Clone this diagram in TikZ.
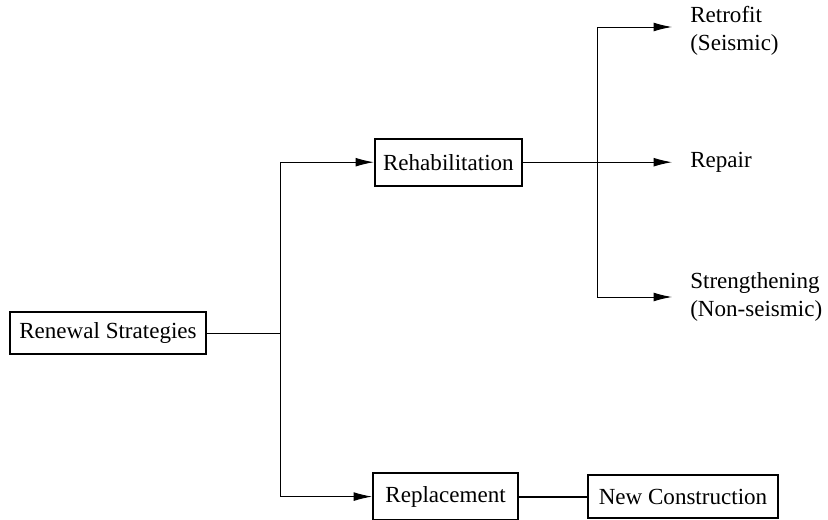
\documentclass[tikz,border=0pt]{standalone}
\usepackage{fontspec}
\setmainfont{Liberation Serif}
\usepackage{tikz}
\usetikzlibrary{arrows.meta,calc,positioning}

\begin{document}
\begin{tikzpicture}[
  stratbox/.style={draw=black,line width=1.4pt,inner xsep=2pt,inner ysep=0pt,
    minimum height=1.17cm,font=\fontsize{16.4}{19.7}\selectfont},
  stratlabel/.style={anchor=west,inner sep=0pt,align=left,
    font=\fontsize{16.4}{19.7}\selectfont},
  stratflow/.style={-{Latex[length=4.6mm,width=2.2mm]},line width=0.7pt},
  stratline/.style={line width=0.7pt}
]
  \useasboundingbox (0,0) rectangle (20.7,12.975);
  \node[stratbox,minimum width=4.9cm,minimum height=1.05cm] (renewal)
    at (2.7,4.65) {Renewal Strategies};
  \node[stratbox,minimum width=3.675cm] (rehab) at (11.21,8.92)
    {Rehabilitation};
  \node[stratbox,minimum width=3.625cm] (replace) at (11.14,0.56)
    {Replacement};
  \node[stratbox,minimum width=4.75cm,minimum height=1.08cm] (newcon)
    at (17.075,0.56) {New Construction};

  \node[stratlabel] (retrofit) at (17.25,12.2) {Retrofit\\(Seismic)};
  \node[stratlabel] (repair) at (17.25,8.92) {Repair};
  \node[stratlabel] (strength) at (17.25,5.55)
    {Strengthening\\(Non-seismic)};

  \coordinate (trunk) at (7.0,4.65);
  \coordinate (split) at (14.925,8.92);

  \draw[stratline] (renewal.east) -- (trunk);
  \draw[stratflow] (trunk) |- (rehab.west);
  \draw[stratflow] (trunk) |- (replace.west);
  \draw[line width=1.4pt] (replace.east) -- (newcon.west);

  \draw[stratflow,shorten >=0.45cm] (rehab.east) -- (repair.west);
  \draw[stratflow,shorten >=0.45cm] (split) |- ([yshift=1mm]retrofit.west);
  \draw[stratflow,shorten >=0.45cm] (split) |- (strength.west);
\end{tikzpicture}
\end{document}
